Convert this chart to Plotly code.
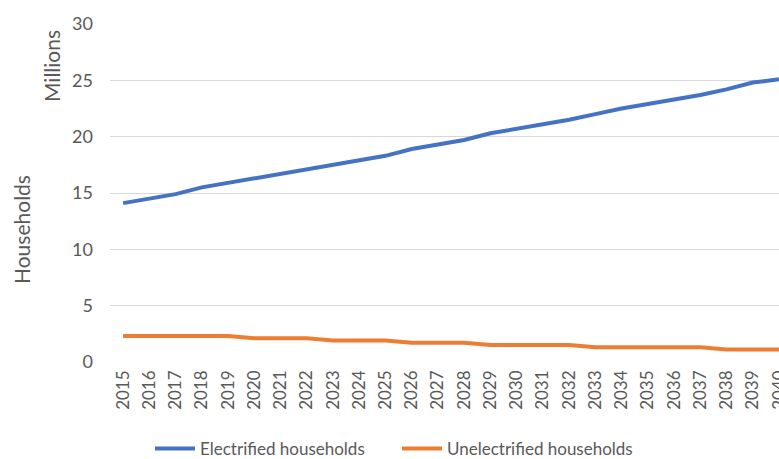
import plotly.graph_objects as go

years = [str(y) for y in range(2015, 2041)]

electrified = [14.1, 14.5, 14.9, 15.5, 15.9, 16.3, 16.7, 17.1, 17.5, 17.9,
               18.3, 18.9, 19.3, 19.7, 20.3, 20.7, 21.1, 21.5, 22.0, 22.5,
               22.9, 23.3, 23.7, 24.2, 24.8, 25.1]
unelectrified = [2.3, 2.3, 2.3, 2.3, 2.3, 2.1, 2.1, 2.1, 1.9, 1.9,
                 1.9, 1.7, 1.7, 1.7, 1.5, 1.5, 1.5, 1.5, 1.3, 1.3,
                 1.3, 1.3, 1.3, 1.1, 1.1, 1.1]

BLUE = "#4472C4"
ORANGE = "#ED7D31"
TEXT = "#595959"
FONT = "Lato"

W, H = 779, 459
L, R, T, B = 110, 0, 24, 97

fig = go.Figure()
fig.add_trace(go.Scatter(x=years, y=electrified, mode="lines",
                         name="Electrified households",
                         line=dict(color=BLUE, width=4)))
fig.add_trace(go.Scatter(x=years, y=unelectrified, mode="lines",
                         name="Unelectrified households",
                         line=dict(color=ORANGE, width=4)))


def paper_x(px):
    return (px - L) / (W - L - R)


def paper_y(py):
    return (H - B - py) / (H - T - B)


fig.update_layout(
    width=W, height=H,
    margin=dict(l=L, r=R, t=T, b=B, autoexpand=False),
    plot_bgcolor="white", paper_bgcolor="white",
    font=dict(family=FONT, color=TEXT, size=16),
    legend=dict(orientation="h", x=paper_x(150), xanchor="left",
                yref="container", y=(H - 449) / H, yanchor="middle",
                font=dict(size=17, color=TEXT), itemwidth=40,
                entrywidth=192),
    xaxis=dict(type="category", range=[-0.5, 25.0], tickangle=-90,
               showgrid=False, showline=False, zeroline=False,
               tickfont=dict(size=17, color=TEXT), ticklabelstandoff=4,
               automargin=False),
    yaxis=dict(range=[0, 30], dtick=5, showgrid=True, gridcolor="#D9D9D9",
               gridwidth=1, zeroline=False, showline=False,
               tickfont=dict(size=18, color=TEXT), ticklabelstandoff=16,
               automargin=False),
    annotations=[
        dict(text="Households", x=paper_x(21), y=paper_y(230),
             xref="paper", yref="paper", xanchor="center", yanchor="middle",
             showarrow=False, textangle=-90, font=dict(size=21, color=TEXT)),
        dict(text="Millions", x=paper_x(52), y=paper_y(66),
             xref="paper", yref="paper", xanchor="center", yanchor="middle",
             showarrow=False, textangle=-90, font=dict(size=21, color=TEXT)),
    ],
)

fig.write_html("out.html", config={"displayModeBar": False},
               post_script="document.body.style.margin='0';")
